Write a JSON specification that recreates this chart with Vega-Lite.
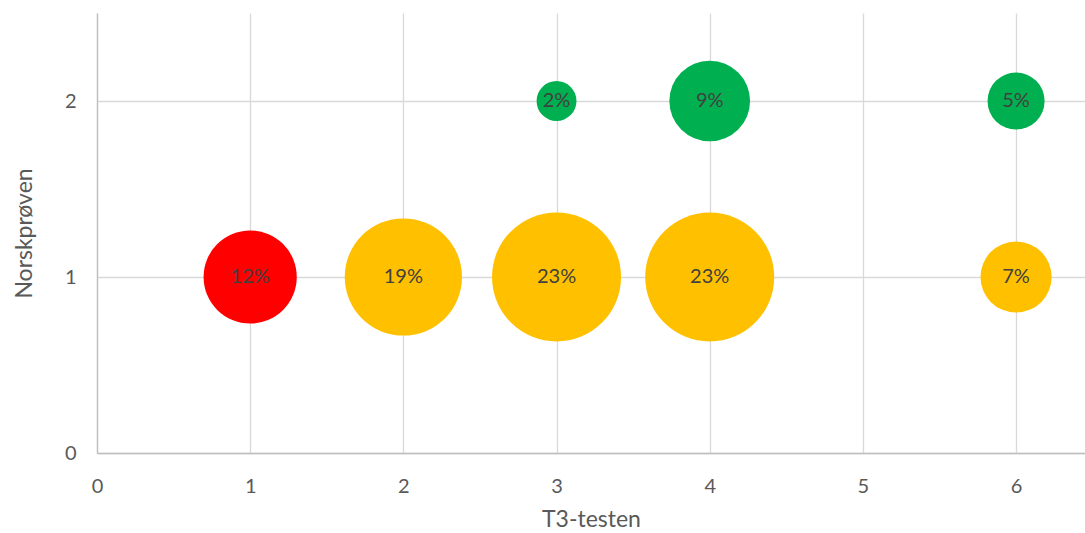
{
  "$schema": "https://vega.github.io/schema/vega-lite/v6.json",
  "width": 988,
  "height": 440,
  "autosize": {"type": "none"},
  "padding": {"left": 97, "top": 13, "right": 0, "bottom": 80},
  "background": "white",
  "config": {
    "view": {"stroke": null},
    "font": "Lato",
    "axis": {
      "labelFont": "Lato",
      "titleFont": "Lato",
      "labelColor": "#595959",
      "titleColor": "#595959",
      "labelFontSize": 20,
      "titleFontSize": 23,
      "titleFontWeight": "normal",
      "gridColor": "#D9D9D9",
      "gridWidth": 1.3,
      "domainColor": "#BFBFBF",
      "domainWidth": 1.3,
      "ticks": false,
      "labelFlush": false
    }
  },
  "data": {
    "values": [
      {"t3": 1, "norsk": 1, "share": 0.12, "label": "12%", "color": "red"},
      {"t3": 2, "norsk": 1, "share": 0.19, "label": "19%", "color": "yellow"},
      {"t3": 3, "norsk": 1, "share": 0.23, "label": "23%", "color": "yellow"},
      {"t3": 4, "norsk": 1, "share": 0.23, "label": "23%", "color": "yellow"},
      {"t3": 6, "norsk": 1, "share": 0.07, "label": "7%", "color": "yellow"},
      {"t3": 3, "norsk": 2, "share": 0.022, "label": "2%", "color": "green"},
      {"t3": 4, "norsk": 2, "share": 0.09, "label": "9%", "color": "green"},
      {"t3": 6, "norsk": 2, "share": 0.045, "label": "5%", "color": "green"}
    ]
  },
  "encoding": {
    "x": {
      "field": "t3",
      "type": "quantitative",
      "scale": {"domain": [0, 6.45], "nice": false, "zero": false},
      "axis": {"values": [0, 1, 2, 3, 4, 5, 6], "title": "T3-testen", "labelPadding": 23, "titlePadding": 12, "format": "d"}
    },
    "y": {
      "field": "norsk",
      "type": "quantitative",
      "scale": {"domain": [0, 2.5], "nice": false, "zero": false},
      "axis": {"values": [0, 1, 2], "title": "Norskprøven", "labelPadding": 21, "titlePadding": 28, "format": "d"}
    }
  },
  "layer": [
    {
      "mark": {"type": "circle", "opacity": 1},
      "encoding": {
        "size": {
          "field": "share",
          "type": "quantitative",
          "scale": {"domain": [0, 0.23], "range": [0, 16641], "zero": true},
          "legend": null
        },
        "color": {
          "field": "color",
          "type": "nominal",
          "scale": {"domain": ["red", "yellow", "green"], "range": ["#FF0000", "#FFC000", "#00B050"]},
          "legend": null
        }
      }
    },
    {
      "mark": {"type": "text", "font": "Lato", "fontSize": 20, "color": "#404040", "baseline": "middle", "align": "center"},
      "encoding": {"text": {"field": "label"}}
    }
  ]
}
